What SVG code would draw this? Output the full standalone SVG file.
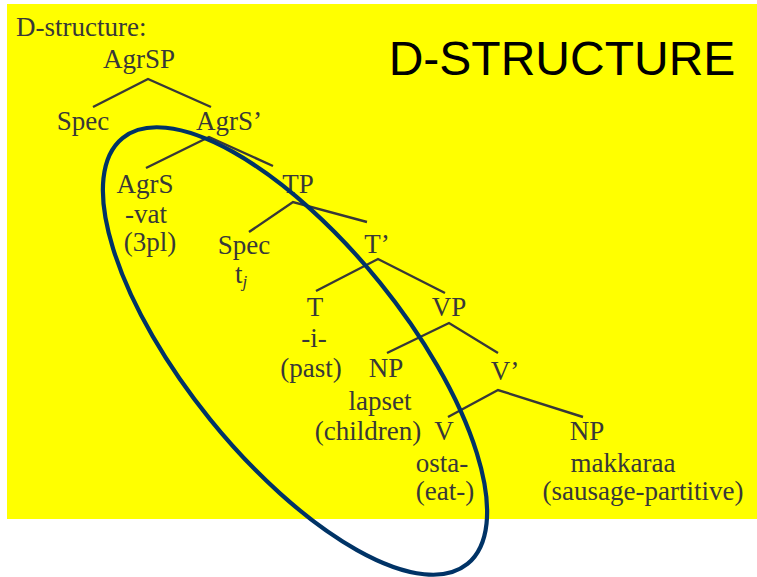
<svg xmlns="http://www.w3.org/2000/svg" width="757" height="577" viewBox="0 0 757 577">
<style>
.t{font-family:"Liberation Serif","Times New Roman",serif;font-size:27px;fill:#383838;text-anchor:middle}
.e{stroke:#383838;stroke-width:2.4;fill:none}
</style>
<rect x="0" y="0" width="757" height="577" fill="#ffffff"/>
<rect x="7" y="4" width="750" height="515" fill="#ffff00"/>
<text x="16" y="36" style="font-family:'Liberation Serif','Times New Roman',serif;font-size:27px;fill:#383838">D-structure:</text>
<text x="562" y="75" style="font-family:'Liberation Sans',Arial,sans-serif;font-size:48px;fill:#000;text-anchor:middle">D-STRUCTURE</text>
<g id="connectors">
<path class="e" d="M93,107 L148,79 L211,107"/>
<path class="e" d="M146,168 L209,137 L273,166"/>
<path class="e" d="M249,232 L293,202 L367,222"/>
<path class="e" d="M316,291 L378,259 L445,293"/>
<path class="e" d="M387,353 L449,323 L498,353"/>
<path class="e" d="M448,417 L498,390 L583,417"/>
</g>
<g id="AgrSP"><text class="t" x="139" y="68">AgrSP</text></g>
<g id="Spec1"><text class="t" x="83" y="130">Spec</text></g>
<g id="AgrS1"><text class="t" x="229" y="130">AgrS’</text></g>
<g id="AgrS"><text class="t" x="145" y="193">AgrS</text><text class="t" x="146" y="223">-vat</text><text class="t" x="150" y="251">(3pl)</text></g>
<g id="TP"><text class="t" x="298" y="193">TP</text></g>
<g id="Spec2"><text class="t" x="244" y="254">Spec</text><text class="t" x="241" y="283">t<tspan font-size="17" font-style="italic" dy="4">j</tspan></text></g>
<g id="Tbar"><text class="t" x="377" y="253">T’</text></g>
<g id="T"><text class="t" x="315" y="316">T</text><text class="t" x="314" y="347">-i-</text><text class="t" x="311" y="377">(past)</text></g>
<g id="VP"><text class="t" x="449" y="316">VP</text></g>
<g id="NP1"><text class="t" x="386" y="377">NP</text><text class="t" x="380" y="410">lapset</text><text class="t" x="368" y="440">(children)</text></g>
<g id="Vbar"><text class="t" x="505" y="380">V’</text></g>
<g id="V"><text class="t" x="444" y="440">V</text><text class="t" x="442" y="472">osta-</text><text class="t" x="445" y="500">(eat-)</text></g>
<g id="NP2"><text class="t" x="587" y="440">NP</text><text class="t" x="623" y="472">makkaraa</text><text class="t" x="643" y="500">(sausage-partitive)</text></g>
<ellipse cx="295" cy="351" rx="274" ry="109" transform="rotate(51 295 351)" fill="none" stroke="#003366" stroke-width="4.2"/>
</svg>
